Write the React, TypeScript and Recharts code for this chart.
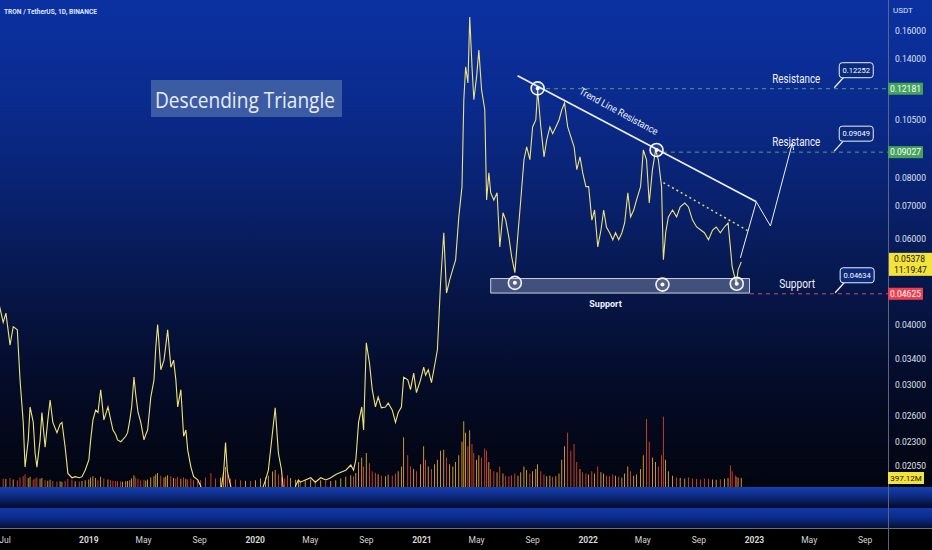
import React from "react";
import {
  ComposedChart,
  Line,
  Bar,
  Cell,
  XAxis,
  YAxis,
  ReferenceLine,
  ReferenceDot,
  ReferenceArea,
} from "recharts";

// ---------------- data ----------------
const dates = [
  "2018-06-16","2018-06-27","2018-07-03","2018-07-12","2018-07-19","2018-07-28","2018-08-03","2018-08-10","2018-08-14","2018-08-21",
  "2018-08-25","2018-09-01","2018-09-05","2018-09-09","2018-09-16","2018-09-20","2018-09-27","2018-10-03","2018-10-08","2018-10-14",
  "2018-10-23","2018-10-30","2018-11-03","2018-11-10","2018-11-16","2018-11-25","2018-12-02","2018-12-11","2018-12-17","2018-12-24",
  "2019-01-01","2019-01-05","2019-01-10","2019-01-16","2019-01-21","2019-01-27","2019-02-03","2019-02-12","2019-02-18","2019-02-23",
  "2019-03-01","2019-03-05","2019-03-12","2019-03-16","2019-03-23","2019-03-27","2019-04-01","2019-04-05","2019-04-10","2019-04-14",
  "2019-04-19","2019-04-25","2019-05-02","2019-05-06","2019-05-10","2019-05-17","2019-05-24","2019-05-28","2019-06-01","2019-06-08",
  "2019-06-15","2019-06-19","2019-06-23","2019-06-30","2019-07-06","2019-07-11","2019-07-15","2019-07-22","2019-07-28","2019-08-02",
  "2019-08-06","2019-08-13","2019-08-19","2019-08-28","2019-09-03","2019-09-14","2019-09-26","2019-10-06","2019-10-17","2019-10-24",
  "2019-10-28","2019-11-01","2019-11-08","2019-11-19","2019-11-30","2019-12-11","2019-12-22","2020-01-02","2020-01-13","2020-01-24",
  "2020-01-30","2020-02-08","2020-02-14","2020-02-21","2020-02-28","2020-03-06","2020-03-12","2020-03-19","2020-03-30","2020-04-05",
  "2020-04-09","2020-04-20","2020-05-02","2020-05-12","2020-05-24","2020-06-04","2020-06-15","2020-06-26","2020-07-07","2020-07-18",
  "2020-07-29","2020-08-04","2020-08-09","2020-08-15","2020-08-22","2020-08-26","2020-09-01","2020-09-08","2020-09-14","2020-09-21",
  "2020-09-27","2020-10-04","2020-10-13","2020-10-19","2020-10-28","2020-11-04","2020-11-10","2020-11-17","2020-11-22","2020-12-01",
  "2020-12-07","2020-12-14","2020-12-20","2020-12-29","2021-01-05","2021-01-09","2021-01-15","2021-01-22","2021-01-29","2021-02-04",
  "2021-02-11","2021-02-18","2021-02-24","2021-03-03","2021-03-10","2021-03-16","2021-03-23","2021-03-30","2021-04-03","2021-04-07",
  "2021-04-12","2021-04-16","2021-04-21","2021-04-25","2021-05-01","2021-05-06","2021-05-12","2021-05-19","2021-05-23","2021-05-28",
  "2021-06-01","2021-06-08","2021-06-15","2021-06-21","2021-06-28","2021-07-04","2021-07-11","2021-07-17","2021-07-24","2021-07-31",
  "2021-08-06","2021-08-13","2021-08-19","2021-08-26","2021-09-01","2021-09-08","2021-09-12","2021-09-19","2021-09-26","2021-10-02",
  "2021-10-09","2021-10-15","2021-10-22","2021-10-29","2021-11-04","2021-11-10","2021-11-17","2021-11-24","2021-12-01","2021-12-07",
  "2021-12-14","2021-12-20","2021-12-27","2022-01-02","2022-01-09","2022-01-15","2022-01-22","2022-01-29","2022-02-04","2022-02-10",
  "2022-02-17","2022-02-24","2022-03-02","2022-03-09","2022-03-16","2022-03-22","2022-03-29","2022-04-04","2022-04-11","2022-04-17",
  "2022-04-26","2022-05-02","2022-05-09","2022-05-15","2022-05-22","2022-05-29","2022-06-04","2022-06-11","2022-06-15","2022-06-20",
  "2022-06-26","2022-07-05","2022-07-14","2022-07-22","2022-08-01","2022-08-09","2022-08-18","2022-08-27","2022-09-05","2022-09-13",
  "2022-09-22","2022-10-01","2022-10-09","2022-10-18","2022-10-27","2022-11-04","2022-11-09","2022-11-13","2022-11-20","2022-11-22",
  "2022-11-26","2022-12-03",
];

const closes = [
  0.0449,0.0404,0.0422,0.0363,0.0396,0.0390,0.0308,0.0252,0.0204,0.0232,
  0.0271,0.0252,0.0218,0.0204,0.0232,0.0264,0.0224,0.0255,0.0280,0.0252,
  0.0240,0.0250,0.0252,0.0224,0.0198,0.0194,0.0195,0.0194,0.0195,0.0201,
  0.0211,0.0232,0.0255,0.0267,0.0264,0.0294,0.0255,0.0271,0.0255,0.0243,
  0.0238,0.0232,0.0230,0.0232,0.0236,0.0240,0.0255,0.0271,0.0312,0.0287,
  0.0264,0.0252,0.0232,0.0238,0.0243,0.0284,0.0308,0.0360,0.0400,0.0323,
  0.0338,0.0363,0.0390,0.0327,0.0338,0.0308,0.0271,0.0294,0.0236,0.0243,
  0.0221,0.0204,0.0195,0.0192,0.0187,0.0175,0.0170,0.0165,0.0180,0.0200,
  0.0229,0.0200,0.0187,0.0172,0.0165,0.0170,0.0165,0.0170,0.0180,0.0192,
  0.0201,0.0240,0.0270,0.0218,0.0201,0.0170,0.0135,0.0160,0.0187,0.0192,
  0.0190,0.0192,0.0194,0.0190,0.0194,0.0192,0.0194,0.0197,0.0199,0.0201,
  0.0206,0.0201,0.0211,0.0252,0.0271,0.0243,0.0367,0.0333,0.0294,0.0271,
  0.0284,0.0270,0.0271,0.0276,0.0267,0.0252,0.0264,0.0271,0.0312,0.0308,
  0.0294,0.0318,0.0290,0.0308,0.0327,0.0315,0.0323,0.0304,0.0330,0.0355,
  0.0487,0.0617,0.0464,0.0494,0.0520,0.0543,0.0665,0.0767,0.1156,0.1350,
  0.1252,0.1709,0.1350,0.1156,0.1288,0.1463,0.1211,0.1103,0.0720,0.0819,
  0.0745,0.0720,0.0745,0.0577,0.0678,0.0655,0.0603,0.0551,0.0511,0.0617,
  0.0720,0.0871,0.0926,0.0871,0.1017,0.1051,0.1211,0.1017,0.0883,0.0957,
  0.1017,0.0985,0.1017,0.1051,0.1103,0.1139,0.1017,0.0970,0.0926,0.0831,
  0.0883,0.0819,0.0767,0.0767,0.0655,0.0687,0.0577,0.0625,0.0687,0.0634,
  0.0617,0.0597,0.0617,0.0597,0.0617,0.0646,0.0745,0.0665,0.0687,0.0720,
  0.0767,0.0912,0.0871,0.0710,0.0831,0.0912,0.0871,0.0767,0.0543,0.0617,
  0.0665,0.0687,0.0665,0.0697,0.0710,0.0697,0.0655,0.0634,0.0625,0.0617,
  0.0597,0.0625,0.0634,0.0617,0.0634,0.0646,0.0577,0.0525,0.0494,0.0485,
  0.0518,0.05378,
];

// volume in millions of TRX
const volumes = [
  420,380,350,400,330,300,420,480,560,400,
  450,330,380,420,360,400,300,280,320,260,
  240,250,230,280,360,330,250,240,260,300,
  330,420,480,400,300,450,380,330,300,280,
  260,250,240,230,250,260,300,380,520,420,
  350,300,320,280,330,420,480,560,620,500,
  420,460,520,480,400,380,450,360,420,350,
  330,380,300,280,300,420,620,380,420,640,
  880,560,380,330,300,280,260,300,380,420,
  500,680,750,560,420,380,520,400,320,300,
  280,300,330,280,300,280,260,300,380,450,
  520,480,620,1100,1300,900,1500,1050,700,620,
  560,500,480,540,500,600,700,900,2200,1400,
  900,800,700,1000,1800,1200,900,800,1000,1200,
  1600,1650,1300,1000,900,1100,1400,2000,2900,2400,
  1800,2500,1900,1500,1200,1400,1300,1700,1600,1100,
  800,700,650,900,600,500,480,520,600,500,
  650,900,750,600,700,800,1000,700,550,480,
  500,450,480,600,1200,1800,2400,1600,1900,1100,
  800,650,600,550,700,600,900,650,600,500,
  480,550,500,450,420,600,900,700,500,550,
  800,1400,3000,2000,1300,1100,900,1400,3100,1200,
  700,500,420,400,380,420,380,350,330,380,
  360,330,320,340,360,400,950,700,500,450,
  420,397.12,
];

const priceTicks = [0.16, 0.14, 0.12181, 0.105, 0.09027, 0.08, 0.07, 0.06, 0.05378, 0.04625, 0.04, 0.034, 0.03, 0.026, 0.023, 0.0205];
const timeTickDates = ["2018-07-01","2019-01-01","2019-05-01","2019-09-01","2020-01-01","2020-05-01","2020-09-01","2021-01-01","2021-05-01","2021-09-01","2022-01-01","2022-05-01","2022-09-01","2023-01-01","2023-05-01","2023-09-01"];
const timeTickLabels = ["Jul","2019","May","Sep","2020","May","Sep","2021","May","Sep","2022","May","Sep","2023","May","Sep"];
const timeDomain = ["2018-06-20", "2023-10-21"];
const priceDomain = [0.01857, 0.1852];
const volumeDomain = [0, 21500];

const lastVolume = 397.12;
const lastVolumeLabel = "397.12M";
const lastTimeLabel = "11:19:47";

// annotations (data coordinates)
const resistanceLines = [
  { start: "2021-09-13", value: 0.12181 },
  { start: "2022-06-14", value: 0.09027 },
];
const supportLine = { start: "2022-12-22", value: 0.04625 };
const supportZone = { x1: "2021-06-01", x2: "2022-12-21", y1: 0.0464, y2: 0.0497 };
const touchPoints = [
  { date: "2021-07-24", price: 0.0487 },
  { date: "2022-06-13", price: 0.0483 },
  { date: "2022-11-23", price: 0.0485 },
  { date: "2021-09-12", price: 0.122 },
  { date: "2022-05-31", price: 0.0912 },
];
const trendLine = [{ date: "2021-07-30", price: 0.1295 }, { date: "2023-01-05", price: 0.0714 }];
const lowerTrend = [{ date: "2022-06-15", price: 0.0782 }, { date: "2022-12-21", price: 0.062 }];
const projection = [
  { date: "2022-12-01", price: 0.0548 },
  { date: "2023-01-05", price: 0.0714 },
  { date: "2023-02-05", price: 0.0637 },
  { date: "2023-03-25", price: 0.0942 },
];
const callouts = [
  { date: "2023-06-25", price: 0.12181, title: "Resistance", value: "0.12252" },
  { date: "2023-06-25", price: 0.09027, title: "Resistance", value: "0.09049" },
  { date: "2023-06-27", price: 0.04625, title: "Support", value: "0.04634" },
];
const trendLabel = { date: "2022-03-09", price: 0.1095, text: "Trend Line Resistance" };
const supportLabel = { date: "2022-02-08", price: 0.044, text: "Support" };

// ---------------- helpers ----------------
const T = (d: string) => Date.parse(d);
const data = dates.map((d, i) => ({
  t: T(d),
  close: closes[i],
  vol: volumes[i],
  up: i === 0 || closes[i] >= closes[i - 1],
}));
const timeTicks = timeTickDates.map(T);

const FONT = "Roboto, 'DejaVu Sans', sans-serif";
const WHITE = "#eef1f8";

const tagStyles: Record<string, { bg: string; fg: string }> = {
  "0.12181": { bg: "#43a35b", fg: "#ffffff" },
  "0.09027": { bg: "#43a35b", fg: "#ffffff" },
  "0.04625": { bg: "#ef3e4e", fg: "#ffffff" },
  "0.05378": { bg: "#f4e33a", fg: "#111111" },
};

const PriceTick = (props: any) => {
  const { x, y, payload } = props;
  const v: number = payload.value;
  const label = v.toFixed(5);
  const tag = tagStyles[String(v)];
  if (tag && label === "0.05378") {
    return (
      <g>
        <rect x={x + 1} y={y - 9} width={43} height={23} fill={tag.bg} />
        <text x={x + 6} y={y - 2.5} dominantBaseline="central" fontSize={8.5} fill={tag.fg} fontFamily={FONT}>{label}</text>
        <text x={x + 6} y={y + 8.5} dominantBaseline="central" fontSize={8.5} fill={tag.fg} fontFamily={FONT}>{lastTimeLabel}</text>
      </g>
    );
  }
  if (tag) {
    return (
      <g>
        <rect x={x} y={y - 6} width={35} height={12} fill={tag.bg} />
        <text x={x + 17.5} y={y} textAnchor="middle" dominantBaseline="central" fontSize={8.5} fill={tag.fg} fontFamily={FONT}>{label}</text>
      </g>
    );
  }
  return (
    <text x={x + 7} y={y} dominantBaseline="central" fontSize={8.5} fill="#dfe3ee" fontFamily={FONT}>{label}</text>
  );
};

const TimeTick = (props: any) => {
  const { x, y, payload } = props;
  const i = timeTicks.indexOf(payload.value);
  const label = timeTickLabels[i] ?? "";
  const isYear = /^\d{4}$/.test(label);
  return (
    <text x={x} y={y + 56} textAnchor="middle" fontSize={8.5} fontWeight={isYear ? 700 : 400} fill="#d6d6d6" fontFamily={FONT}>
      {label}
    </text>
  );
};

const TouchMark = (props: any) => {
  const { cx, cy } = props;
  return (
    <g>
      <circle cx={cx} cy={cy} r={6.5} fill="rgba(255,255,255,0.1)" stroke="#f4f6fb" strokeWidth={1.6} />
      <circle cx={cx} cy={cy} r={2} fill="#ffffff" />
    </g>
  );
};

const makeCallout = (title: string, value: string) => (props: any) => {
  const { cx, cy } = props;
  const titleLen = title === "Support" ? 36 : 48;
  return (
    <g>
      <line x1={cx} y1={cy - 1} x2={cx + 9} y2={cy - 11} stroke={WHITE} strokeWidth={1.3} />
      <rect x={cx + 5} y={cy - 26} width={34} height={15} rx={3} fill="#0c2a7c" stroke={WHITE} strokeWidth={1} />
      <text x={cx + 22} y={cy - 18.5} textAnchor="middle" dominantBaseline="central" fontSize={7.5} fill="#ffffff" fontFamily={FONT}>{value}</text>
      <text x={cx - 38} y={cy - 10} textAnchor="middle" dominantBaseline="central" fontSize={12} fill={WHITE} fontFamily={FONT} textLength={titleLen} lengthAdjust="spacingAndGlyphs">{title}</text>
    </g>
  );
};

const TrendText = (props: any) => {
  const { cx, cy } = props;
  return (
    <text x={cx} y={cy} textAnchor="middle" dominantBaseline="central" fontSize={10} fill={WHITE} fontFamily={FONT}
      transform={`rotate(28.5 ${cx} ${cy})`} textLength={88} lengthAdjust="spacingAndGlyphs">
      {trendLabel.text}
    </text>
  );
};

const SupportText = (props: any) => {
  const { cx, cy } = props;
  return (
    <text x={cx} y={cy} textAnchor="middle" dominantBaseline="central" fontSize={9} fontWeight={700} fill={WHITE} fontFamily={FONT}>
      {supportLabel.text}
    </text>
  );
};

const VolumeTag = (props: any) => {
  const { cy } = props;
  const x = 888; // price-scale column
  return (
    <g>
      <rect x={x} y={cy - 6} width={36} height={12} fill="#f4e33a" />
      <text x={x + 18} y={cy} textAnchor="middle" dominantBaseline="central" fontSize={8} fill="#111" fontFamily={FONT}>{lastVolumeLabel}</text>
    </g>
  );
};

const ArrowLine = (props: any) => {
  const { x1, y1, x2, y2 } = props;
  const a = Math.atan2(y2 - y1, x2 - x1);
  const L = 7;
  const s = 0.45;
  return (
    <g>
      <line x1={x1} y1={y1} x2={x2} y2={y2} stroke={WHITE} strokeWidth={1} />
      <path
        d={`M${x2 - L * Math.cos(a - s)},${y2 - L * Math.sin(a - s)} L${x2},${y2} L${x2 - L * Math.cos(a + s)},${y2 - L * Math.sin(a + s)}`}
        fill="none" stroke={WHITE} strokeWidth={1}
      />
    </g>
  );
};

export default function App() {
  const W = 932;
  const H = 550;
  return (
    <div style={{ position: "absolute", left: 0, top: 0, width: W, height: H, overflow: "hidden", background: "#000" }}>
      {/* background panes */}
      <div style={{ position: "absolute", left: 0, top: 0, width: W, height: 487,
        background: "linear-gradient(to bottom, #0b31a2 0%, #0a2a8c 22%, #09216c 42%, #061544 62%, #040b26 80%, #02050f 100%)" }} />
      <div style={{ position: "absolute", left: 0, top: 487, width: W, height: 21,
        background: "linear-gradient(to bottom, #1640b0 0%, #0c2a80 45%, #030a28 100%)" }} />
      <div style={{ position: "absolute", left: 0, top: 508, width: W, height: 20,
        background: "linear-gradient(to bottom, #1238a8 0%, #0c2b88 50%, #041035 100%)" }} />
      <div style={{ position: "absolute", left: 0, top: 528, width: W, height: 1, background: "#6e6e6e" }} />
      <div style={{ position: "absolute", left: 888, top: 0, width: 1, height: H, background: "#5c6480" }} />

      <div style={{ position: "absolute", left: 0, top: 0 }}>
        <ComposedChart width={W} height={H} data={data} margin={{ top: 0, right: 0, bottom: 0, left: 0 }}>
          <XAxis
            dataKey="t" type="number" domain={timeDomain.map(T)} allowDataOverflow
            ticks={timeTicks} interval={0} tick={<TimeTick />} tickSize={0} tickMargin={0}
            axisLine={false} tickLine={false} height={63}
          />
          <YAxis
            yAxisId="price" orientation="right" width={44} scale="log" domain={priceDomain} allowDataOverflow
            ticks={priceTicks} interval={0} tick={<PriceTick />} tickSize={0} tickMargin={0}
            axisLine={false} tickLine={false}
          />
          <YAxis yAxisId="vol" hide domain={volumeDomain} allowDataOverflow />

          <Bar dataKey="vol" yAxisId="vol" barSize={2.6} isAnimationActive={false}>
            {data.map((d, i) => (
              <Cell key={i} fill={d.up ? "#f7b52c" : "#ee4a2c"} />
            ))}
          </Bar>

          <ReferenceArea
            yAxisId="price" x1={T(supportZone.x1)} x2={T(supportZone.x2)} y1={supportZone.y1} y2={supportZone.y2}
            fill="#c9d3ef" fillOpacity={0.3} stroke="#e6ebf8" strokeOpacity={0.85} strokeWidth={1}
          />

          <Line dataKey="close" yAxisId="price" type="linear" stroke="#eee27a" strokeWidth={1.1}
            dot={false} activeDot={false} isAnimationActive={false} />

          {resistanceLines.map((r, i) => (
            <ReferenceLine key={"r" + i} yAxisId="price"
              segment={[{ x: T(r.start), y: r.value }, { x: T(timeDomain[1]), y: r.value }]}
              stroke="#5f9c72" strokeDasharray="4 4" strokeWidth={1} />
          ))}
          <ReferenceLine yAxisId="price"
            segment={[{ x: T(supportLine.start), y: supportLine.value }, { x: T(timeDomain[1]), y: supportLine.value }]}
            stroke="#d2476a" strokeDasharray="4 4" strokeWidth={1} />

          <ReferenceLine yAxisId="price"
            segment={trendLine.map((p) => ({ x: T(p.date), y: p.price }))}
            stroke={WHITE} strokeWidth={1.6} />
          <ReferenceLine yAxisId="price"
            segment={lowerTrend.map((p) => ({ x: T(p.date), y: p.price }))}
            stroke="#d4dc72" strokeDasharray="2 3" strokeWidth={1.5} />

          {projection.slice(0, -1).map((p, i) => {
            const q = projection[i + 1];
            const last = i === projection.length - 2;
            return (
              <ReferenceLine key={"p" + i} yAxisId="price"
                segment={[{ x: T(p.date), y: p.price }, { x: T(q.date), y: q.price }]}
                stroke={WHITE} strokeWidth={1}
                shape={last ? ArrowLine : undefined} />
            );
          })}

          {touchPoints.map((p, i) => (
            <ReferenceDot key={"c" + i} yAxisId="price" x={T(p.date)} y={p.price} r={6} shape={TouchMark} />
          ))}

          {callouts.map((c, i) => (
            <ReferenceDot key={"co" + i} yAxisId="price" x={T(c.date)} y={c.price} r={1} shape={makeCallout(c.title, c.value)} />
          ))}

          <ReferenceDot yAxisId="price" x={T(trendLabel.date)} y={trendLabel.price} r={1} shape={TrendText} />
          <ReferenceDot yAxisId="price" x={T(supportLabel.date)} y={supportLabel.price} r={1} shape={SupportText} />
          <ReferenceDot yAxisId="vol" x={data[data.length - 1].t} y={lastVolume} r={1} shape={VolumeTag} />
        </ComposedChart>
      </div>

      {/* header & drawing labels */}
      <svg width={W} height={H} style={{ position: "absolute", left: 0, top: 0, pointerEvents: "none" }}>
        <text x={4} y={11} dominantBaseline="central" fontSize={8} fontWeight={700} fill="#dfe6ff" fontFamily={FONT}
          textLength={93} lengthAdjust="spacingAndGlyphs">TRON / TetherUS, 1D, BINANCE</text>
        <text x={893} y={10} dominantBaseline="central" fontSize={8} fill="#dfe3ee" fontFamily={FONT}>USDT</text>
        <rect x={151} y={80} width={191} height={37} fill="#3b5ba2" />
        <text x={155} y={98.5} dominantBaseline="central" fontSize={22} fill="#e9edf9" fontFamily="'Open Sans', 'DejaVu Sans', sans-serif"
          textLength={180} lengthAdjust="spacingAndGlyphs">Descending Triangle</text>
      </svg>
    </div>
  );
}
